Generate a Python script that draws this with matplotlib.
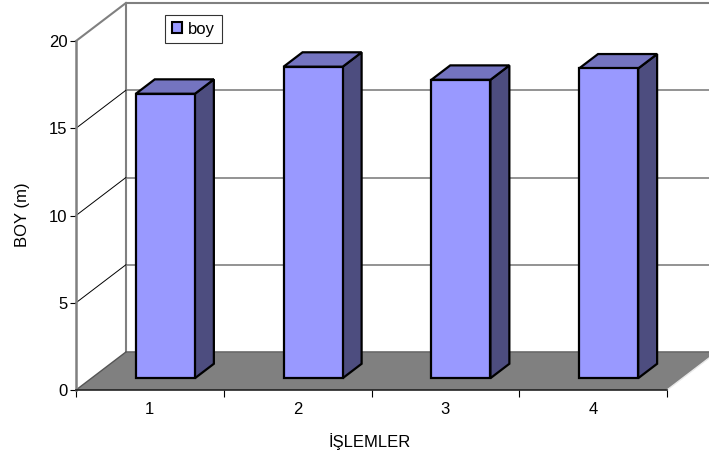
import matplotlib
matplotlib.use('Agg')
import matplotlib.pyplot as plt
from matplotlib.patches import Polygon, Patch

plt.rcParams['font.family'] = ['Liberation Sans', 'DejaVu Sans']

categories = ['1', '2', '3', '4']
boy = [16.3, 17.85, 17.1, 17.75]
y_ticks = [0, 5, 10, 15, 20]

FRONT = '#9999FF'
SIDE = '#4D4D7F'
TOP = '#7474C0'
FLOOR = '#808080'
WALL = '#808080'
FS = 12

# oblique depth offset (one full depth, in data units)
DX = 50 / 148
DY = 38 / 17.45
D0, D1 = 0.31, 0.69   # bar depth from front to back
BW = 0.4              # bar width


def proj(x, y, d):
    return (x + d * DX, y + d * DY)


fig = plt.figure(figsize=(7.09, 4.57), dpi=100)
ax = fig.add_axes([76 / 709, 67 / 457, 591 / 709, 349 / 457])
n = len(categories)
ax.set_xlim(0, n)
ax.set_ylim(0, 20)
ax.patch.set_visible(False)

# walls
ax.plot(*zip(proj(0, 0, 1), proj(0, 20, 1), proj(n, 20, 1)), color=WALL, lw=1.5, clip_on=False, zorder=1)
ax.plot(*zip(proj(0, 20, 0), proj(0, 20, 1)), color=WALL, lw=1.5, clip_on=False, zorder=1)
for v in y_ticks[1:-1]:
    ax.plot(*zip(proj(0, v, 1), proj(n, v, 1)), color=WALL, lw=1.2, clip_on=False, zorder=1)
    ax.plot(*zip(proj(0, v, 0), proj(0, v, 1)), color='black', lw=0.7, clip_on=False, zorder=1)

# floor
floor = Polygon([proj(0, 0, 0), proj(n, 0, 0), proj(n, 0, 1), proj(0, 0, 1)],
                closed=True, facecolor=FLOOR, edgecolor='none', clip_on=False, zorder=2)
ax.add_patch(floor)
ax.plot(*zip(proj(0, 0, 1), proj(n, 0, 1)), color='#6a6a6a', lw=1.2, clip_on=False, zorder=2)
ax.plot(*zip(proj(0, 0, 0), proj(0, 0, 1)), color='#555555', lw=1, clip_on=False, zorder=2)
ax.plot(*zip(proj(n, 0, 0), proj(n, 0, 1)), color='#e8e8e8', lw=1, clip_on=False, zorder=2)

# bars
for i, v in enumerate(boy):
    x0 = i + 0.5 - BW / 2
    x1 = i + 0.5 + BW / 2
    front = [proj(x0, 0, D0), proj(x1, 0, D0), proj(x1, v, D0), proj(x0, v, D0)]
    side = [proj(x1, 0, D0), proj(x1, 0, D1), proj(x1, v, D1), proj(x1, v, D0)]
    top = [proj(x0, v, D0), proj(x1, v, D0), proj(x1, v, D1), proj(x0, v, D1)]
    for pts, c in [(side, SIDE), (top, TOP), (front, FRONT)]:
        ax.add_patch(Polygon(pts, closed=True, facecolor=c, edgecolor='black',
                             lw=1.6, joinstyle='miter', clip_on=False, zorder=3))

# axes
for s in ['top', 'right']:
    ax.spines[s].set_visible(False)
ax.spines['left'].set_color(WALL)
ax.spines['left'].set_linewidth(1.8)
ax.spines['bottom'].set_color('#222222')
ax.spines['bottom'].set_linewidth(1.2)
ax.spines['left'].set_zorder(2.5)
ax.spines['bottom'].set_zorder(2.5)

ax.set_yticks(y_ticks)
ax.tick_params(axis='y', length=4, width=0.8, pad=2, labelsize=FS)
ax.set_xticks(range(n + 1))
ax.set_xticklabels([])
ax.set_xticks([i + 0.5 for i in range(n)], minor=True)
ax.set_xticklabels(categories, minor=True)
ax.tick_params(axis='x', which='major', length=5, width=0.8)
ax.tick_params(axis='x', which='minor', length=0, pad=9, labelsize=FS)

fig.text(23 / 709, 1 - 215 / 457, 'BOY (m)', rotation=90, ha='center', va='center', fontsize=FS)
fig.text(370 / 709, 1 - 442 / 457, 'İŞLEMLER', ha='center', va='center', fontsize=FS)

leg = ax.legend(handles=[Patch(facecolor=FRONT, edgecolor='black', lw=1.5, label='boy')],
                loc='upper left', bbox_to_anchor=(165 / 709, 1 - 15 / 457),
                bbox_transform=fig.transFigure, fontsize=FS, frameon=True, fancybox=False,
                handlelength=0.6, handleheight=0.6, handletextpad=0.4, borderpad=0.4,
                borderaxespad=0)
leg.get_frame().set_edgecolor('black')
leg.get_frame().set_linewidth(0.8)

fig.savefig('out.png', dpi=100)
